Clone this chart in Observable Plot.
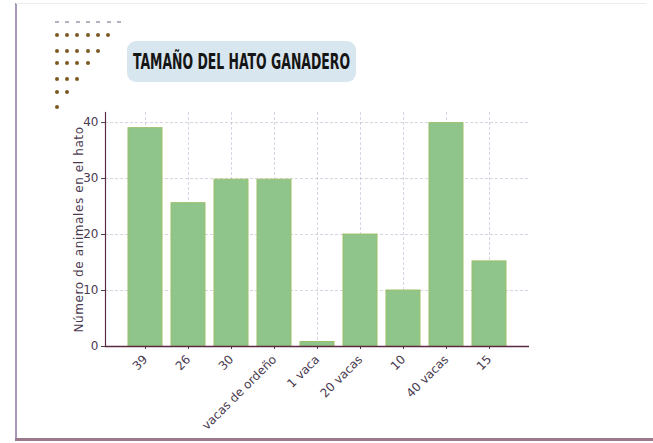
<!DOCTYPE html>
<html>
<head>
<meta charset="utf-8">
<script src="https://cdn.jsdelivr.net/npm/d3@7"></script>
<script src="https://cdn.jsdelivr.net/npm/@observablehq/plot@0.6"></script>
<style>
  html, body { margin: 0; padding: 0; background: #ffffff; }
  #page { position: relative; width: 653px; height: 443px; overflow: hidden; background: #fff; }
  .frameL { position: absolute; left: 15px; top: 3px; width: 1.5px; height: 438px; background: #a898b8; }
  .frameT { position: absolute; left: 16px; top: 3px; width: 630px; height: 1px; background: #eeeaf2; }
  .frameB { position: absolute; left: 15px; top: 438px; width: 638px; height: 3px; background: #9a7a8c; }
  .dot { position: absolute; width: 4px; height: 4px; border-radius: 50%; background: #7a5a22; }
  .dash { position: absolute; width: 4px; height: 1.5px; background: #b8b0c0; }
  #titlebox { position: absolute; left: 127px; top: 41px; width: 229px; height: 41px; border-radius: 9px; background: #d8e6ef; }
  #title { position: absolute; left: 0; top: 50%; white-space: nowrap; font-family: "DejaVu Sans Condensed", "Liberation Sans", sans-serif; font-weight: bold; font-size: 21px; color: #151515; transform-origin: 0 50%; }
  #chart { position: absolute; left: 0; top: 100px; width: 560px; height: 338px; overflow: hidden; }
</style>
</head>
<body>
<div id="page">
  <div class="frameL"></div>
  <div class="frameT"></div>
  <div class="frameB"></div>
  <div id="deco"></div>
  <div id="titlebox"><span id="title">TAMAÑO DEL HATO GANADERO</span></div>
  <div id="chart"></div>
</div>
<script>
const categories = ["39", "26", "30", "vacas de ordeño", "1 vaca", "20 vacas", "10", "40 vacas", "15"];
const values = [39, 25.6, 29.8, 29.8, 0.8, 20, 10, 39.9, 15.2];
const yTicks = [0, 10, 20, 30, 40];
const yLabel = "Número de animales en el hato";
const dotRows = [6, 5, 4, 3, 2, 1];

// fit title text into its box (target ~217px wide, centered)
const title = document.getElementById("title");
const tw = title.getBoundingClientRect().width;
const target = 217;
const s = target / tw;
title.style.left = ((229 - target) / 2) + "px";
title.style.transform = `translateY(-50%) scaleX(${s})`;

// decorative dots (top-left)
const deco = document.getElementById("deco");
const rowY = [35, 50.5, 63, 79, 92, 107];
for (let i = 0; i < 7; i++) {
  const d = document.createElement("div");
  d.className = "dash";
  d.style.left = (55 + i * 10.3) + "px";
  d.style.top = "21px";
  deco.appendChild(d);
}
dotRows.forEach((n, r) => {
  for (let i = 0; i < n; i++) {
    const d = document.createElement("div");
    d.className = "dot";
    d.style.left = (55 + i * 10.2) + "px";
    d.style.top = (rowY[r] - 2) + "px";
    deco.appendChild(d);
  }
});

const data = categories.map((c, i) => ({c, v: values[i]}));
const ink = "#4a3a50";

const chart = Plot.plot({
  width: 560,
  height: 338,
  marginLeft: 105,
  marginRight: 31,
  marginTop: 12,
  marginBottom: 92,
  style: {fontFamily: "DejaVu Sans, sans-serif", fontSize: "11px", color: ink, background: "transparent", overflow: "visible"},
  x: {domain: categories, paddingInner: 0.2, paddingOuter: 0.43},
  y: {domain: [0, 41.8]},
  marks: [
    Plot.gridX({stroke: "#b8b0d0", strokeOpacity: 0.55, strokeDasharray: "3,2"}),
    Plot.gridY(yTicks, {stroke: "#b8b0d0", strokeOpacity: 0.55, strokeDasharray: "3,2"}),
    Plot.barY(data, {x: "c", y: "v", fill: "#8fc58a", stroke: "#9cbf68", strokeWidth: 1}),
    Plot.axisY(yTicks, {tickSize: 4, tickPadding: 3, stroke: ink, fontSize: 12, label: yLabel, labelAnchor: "center", labelArrow: "none", labelOffset: 31}),
    Plot.axisX({tickRotate: -45, tickSize: 3, tickPadding: 8, stroke: ink, fontSize: 12, label: null}),
    Plot.ruleY([0], {stroke: "#5a2a44", strokeWidth: 1.5}),
    Plot.frame({anchor: "left", stroke: "#5a2a44", strokeWidth: 1.2})
  ]
});
document.getElementById("chart").appendChild(chart);
// slightly widen y-axis label letter spacing like the reference
chart.querySelectorAll("text").forEach(t => {
  if (t.textContent === yLabel) t.setAttribute("letter-spacing", "0.6");
});
</script>
</body>
</html>
